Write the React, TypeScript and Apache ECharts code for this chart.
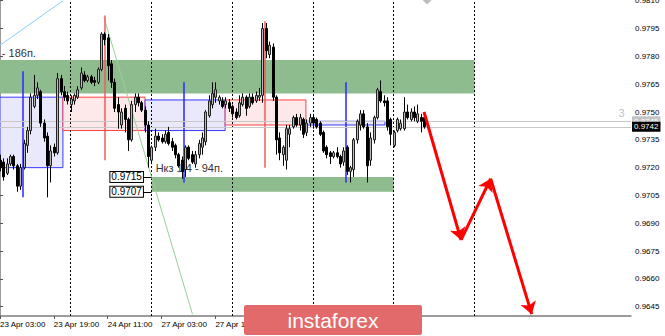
import React, { useEffect, useRef } from 'react';
import * as echarts from 'echarts';

// ---- H1 candles (bar index 0 = 23 Apr 03:00) ----
const open = [
  0.9724, 0.9723, 0.9717, 0.9722, 0.9726, 0.9721, 0.9710, 0.9720, 0.9732, 0.9740,
  0.9753, 0.9759, 0.9761, 0.9744, 0.9737, 0.9721, 0.9731, 0.9728, 0.9768, 0.9761,
  0.9759, 0.9754, 0.9756, 0.9758, 0.9763, 0.9770, 0.9767, 0.9769, 0.9767, 0.9766,
  0.9773, 0.9792, 0.9790, 0.9776, 0.9766, 0.9754, 0.9743, 0.9752, 0.9746, 0.9735,
  0.9754, 0.9758, 0.9755, 0.9751, 0.9743, 0.9724, 0.9731, 0.9737, 0.9736, 0.9734,
  0.9739, 0.9734, 0.9732, 0.9727, 0.9724, 0.9719, 0.9731, 0.9727, 0.9722, 0.9727,
  0.9731, 0.9734, 0.9748, 0.9754, 0.9758, 0.9756, 0.9756, 0.9754, 0.9755, 0.9753,
  0.9750, 0.9748, 0.9754, 0.9758, 0.9753, 0.9758, 0.9756, 0.9758, 0.9759, 0.9795,
  0.9781, 0.9785, 0.9758, 0.9736, 0.9727, 0.9724, 0.9738, 0.9742, 0.9747, 0.9743,
  0.9746, 0.9739, 0.9744, 0.9747, 0.9746, 0.9744, 0.9739, 0.9731, 0.9728, 0.9726,
  0.9728, 0.9726, 0.9723, 0.9731, 0.9718, 0.9719, 0.9735, 0.9743, 0.9749, 0.9742,
  0.9724, 0.9735, 0.9747, 0.9761, 0.9756, 0.9756, 0.9746, 0.9732, 0.9740, 0.9741,
  0.9741, 0.9750, 0.9746, 0.9750, 0.9745, 0.9747, 0.9747,
];
const close = [
  0.9720, 0.9715, 0.9722, 0.9726, 0.9721, 0.9710, 0.9720, 0.9733, 0.9740, 0.9758,
  0.9759, 0.9763, 0.9744, 0.9736, 0.9721, 0.9729, 0.9728, 0.9768, 0.9761, 0.9758,
  0.9756, 0.9757, 0.9759, 0.9762, 0.9771, 0.9767, 0.9769, 0.9766, 0.9766, 0.9773,
  0.9792, 0.9789, 0.9775, 0.9766, 0.9752, 0.9750, 0.9750, 0.9746, 0.9735, 0.9754,
  0.9758, 0.9755, 0.9751, 0.9743, 0.9726, 0.9731, 0.9737, 0.9735, 0.9734, 0.9738,
  0.9733, 0.9731, 0.9727, 0.9721, 0.9718, 0.9731, 0.9725, 0.9723, 0.9727, 0.9733,
  0.9736, 0.9750, 0.9756, 0.9760, 0.9762, 0.9758, 0.9753, 0.9756, 0.9752, 0.9749,
  0.9747, 0.9755, 0.9758, 0.9752, 0.9758, 0.9755, 0.9759, 0.9759, 0.9795, 0.9783,
  0.9786, 0.9758, 0.9735, 0.9728, 0.9731, 0.9741, 0.9741, 0.9747, 0.9743, 0.9747,
  0.9738, 0.9744, 0.9747, 0.9744, 0.9742, 0.9738, 0.9729, 0.9727, 0.9726, 0.9728,
  0.9726, 0.9722, 0.9729, 0.9718, 0.9720, 0.9735, 0.9745, 0.9749, 0.9742, 0.9721,
  0.9736, 0.9747, 0.9762, 0.9756, 0.9755, 0.9742, 0.9738, 0.9739, 0.9746, 0.9744,
  0.9750, 0.9747, 0.9750, 0.9747, 0.9749, 0.9745, 0.9742,
];
const high = [
  0.9727, 0.9725, 0.9725, 0.9727, 0.9727, 0.9722, 0.9722, 0.9735, 0.9742, 0.9760,
  0.9770, 0.9766, 0.9762, 0.9746, 0.9739, 0.9732, 0.9733, 0.9771, 0.9770, 0.9764,
  0.9761, 0.9759, 0.9760, 0.9764, 0.9774, 0.9772, 0.9770, 0.9770, 0.9769, 0.9774,
  0.9793, 0.9793, 0.9792, 0.9778, 0.9768, 0.9758, 0.9752, 0.9754, 0.9747, 0.9756,
  0.9760, 0.9760, 0.9756, 0.9753, 0.9745, 0.9732, 0.9741, 0.9739, 0.9738, 0.9740,
  0.9742, 0.9736, 0.9733, 0.9728, 0.9726, 0.9732, 0.9732, 0.9729, 0.9729, 0.9735,
  0.9739, 0.9751, 0.9759, 0.9766, 0.9766, 0.9759, 0.9758, 0.9758, 0.9757, 0.9754,
  0.9752, 0.9759, 0.9760, 0.9759, 0.9760, 0.9760, 0.9761, 0.9763, 0.9798, 0.9798,
  0.9788, 0.9787, 0.9759, 0.9739, 0.9732, 0.9743, 0.9743, 0.9748, 0.9749, 0.9749,
  0.9747, 0.9746, 0.9749, 0.9749, 0.9747, 0.9745, 0.9740, 0.9732, 0.9729, 0.9729,
  0.9731, 0.9727, 0.9731, 0.9732, 0.9721, 0.9736, 0.9746, 0.9751, 0.9751, 0.9744,
  0.9739, 0.9748, 0.9763, 0.9767, 0.9759, 0.9758, 0.9747, 0.9740, 0.9747, 0.9746,
  0.9758, 0.9754, 0.9752, 0.9753, 0.9754, 0.9749, 0.9748,
];
const low = [
  0.9718, 0.9713, 0.9716, 0.9721, 0.9719, 0.9707, 0.9708, 0.9719, 0.9728, 0.9738,
  0.9752, 0.9757, 0.9742, 0.9734, 0.9704, 0.9712, 0.9726, 0.9727, 0.9759, 0.9756,
  0.9754, 0.9750, 0.9754, 0.9757, 0.9762, 0.9766, 0.9766, 0.9765, 0.9764, 0.9765,
  0.9772, 0.9786, 0.9767, 0.9763, 0.9750, 0.9741, 0.9741, 0.9739, 0.9729, 0.9734,
  0.9750, 0.9753, 0.9750, 0.9739, 0.9720, 0.9722, 0.9729, 0.9734, 0.9733, 0.9733,
  0.9732, 0.9729, 0.9725, 0.9720, 0.9714, 0.9715, 0.9724, 0.9722, 0.9720, 0.9725,
  0.9727, 0.9732, 0.9747, 0.9752, 0.9755, 0.9754, 0.9752, 0.9752, 0.9750, 0.9747,
  0.9746, 0.9747, 0.9753, 0.9748, 0.9752, 0.9754, 0.9755, 0.9756, 0.9755, 0.9779,
  0.9779, 0.9756, 0.9727, 0.9724, 0.9721, 0.9719, 0.9731, 0.9741, 0.9742, 0.9740,
  0.9736, 0.9737, 0.9742, 0.9741, 0.9741, 0.9737, 0.9728, 0.9725, 0.9722, 0.9725,
  0.9725, 0.9720, 0.9721, 0.9716, 0.9712, 0.9715, 0.9733, 0.9740, 0.9741, 0.9712,
  0.9721, 0.9733, 0.9746, 0.9755, 0.9753, 0.9740, 0.9732, 0.9731, 0.9739, 0.9740,
  0.9740, 0.9746, 0.9745, 0.9745, 0.9744, 0.9739, 0.9741,
];

// ---- axes ----
const timeTickIndex = [0, 16, 32, 48, 64];
const timeTickLabels = ['23 Apr 03:00', '23 Apr 19:00', '24 Apr 11:00', '27 Apr 03:00', '27 Apr 19:00'];
const priceTicks = [0.9645, 0.966, 0.9675, 0.969, 0.9705, 0.972, 0.9735, 0.975, 0.9765, 0.978, 0.9795, 0.981];
const X_MIN = 0;
const X_MAX = 187.5;
const Y_MIN = 0.964;
const Y_MAX = 0.98104;
const daySeparators = [21, 45, 69, 93, 117, 141];

// ---- zones / boxes / lines ----
const zoneX = [[0, 141], [45, 117]];
const zoneY = [[0.976, 0.9778], [0.9707, 0.9715]];
const zoneLabelValues = [0.9715, 0.9707];
const zoneLabelX = 45;

const boxX = [[0, 18.7], [18.7, 43.1], [43.1, 66.9], [66.9, 90.9], [90.9, 114.4]];
const boxY = [[0.972, 0.9758], [0.974, 0.9758], [0.974, 0.97565], [0.9743, 0.97565], [0.9743, 0.9745]];
const boxSide = ['buy', 'sell', 'buy', 'sell', 'buy'];

const pivotX = [6.85, 31, 54.7, 78.8, 102.8];
const pivotY = [[0.9704, 0.9772], [0.9724, 0.9802], [0.9712, 0.9766], [0.972, 0.9799], [0.9712, 0.9766]];
const pivotSide = ['buy', 'sell', 'buy', 'sell', 'buy'];

const diagX = [[0, 18.7], [30.9, 57.2]];
const diagY = [[0.9786, 0.981], [0.9801, 0.9641]];
const diagColor = ['#87cefa', '#98d098'];

const priceLineValues = [0.9745, 0.9742];
const priceLineBg = ['#c4c4c4', '#000000'];

const noteTexts = ['- 186п.', 'Нкз 1/4 - 94п.'];
const noteX = [0.4, 46.1];
const noteY = [0.97818, 0.972];

const forecastX = [126, 137, 145.8, 158];
const forecastY = [0.975, 0.9681, 0.9714, 0.9641];

const FONT = 'Liberation Sans';

export default function App() {
  const ref = useRef<HTMLDivElement>(null);

  useEffect(() => {
    if (!ref.current) return;
    const chart = echarts.init(ref.current, undefined, { renderer: 'svg' });

    const candleData = open.map((o, i) => [i, o, close[i], low[i], high[i]]);

    const greenAreas = zoneX.map((xr, k) => [
      { coord: [xr[0], zoneY[k][0]], itemStyle: { color: '#8fbc8f' } },
      { coord: [xr[1], zoneY[k][1]] },
    ]);

    const boxAreas = boxX.map((xr, k) => [
      {
        coord: [xr[0], boxY[k][0]],
        itemStyle: boxSide[k] === 'buy'
          ? { color: '#e9e9fb', borderColor: '#3a3aff', borderWidth: 1 }
          : { color: '#fde9e9', borderColor: '#ff4040', borderWidth: 1 },
      },
      { coord: [xr[1], boxY[k][1]] },
    ]);

    const backLines: any[] = [];
    daySeparators.forEach((d) => {
      backLines.push({ xAxis: d, lineStyle: { color: '#000', width: 1, type: [2, 2] } });
    });
    diagX.forEach((xr, k) => {
      backLines.push([
        { coord: [xr[0], diagY[k][0]], lineStyle: { color: diagColor[k], width: 1, type: 'solid' } },
        { coord: [xr[1], diagY[k][1]] },
      ]);
    });
    pivotX.forEach((px, k) => {
      backLines.push([
        {
          coord: [px, pivotY[k][0]],
          lineStyle: { color: pivotSide[k] === 'buy' ? '#2828ff' : '#f25a5a', width: 1.5, type: 'solid' },
        },
        { coord: [px, pivotY[k][1]] },
      ]);
    });

    const priceLines = priceLineValues.map((v, k) => [
      {
        coord: [X_MIN, v],
        lineStyle: { color: '#c8c8c8', width: 1, type: 'solid' },
        label: {
          show: true, position: 'end', distance: 1, formatter: v.toFixed(4),
          backgroundColor: priceLineBg[k], color: '#fff', fontSize: 8, fontFamily: FONT,
          padding: [1, 2, 1, 2],
        },
      },
      { coord: [X_MAX, v] },
    ]);

    const zoneLabelLines = zoneLabelValues.map((v) => [
      { coord: [zoneLabelX - 2.5, v], lineStyle: { color: '#000', width: 1, type: 'solid' } },
      { coord: [zoneLabelX, v] },
    ]);

    const forecastLines = forecastX.slice(0, -1).map((x, k) => [
      { coord: [x, forecastY[k]], symbol: 'none' },
      { coord: [forecastX[k + 1], forecastY[k + 1]], symbol: 'arrow', symbolSize: 12 },
    ]);

    const notePoints = noteTexts.map((t, k) => ({
      coord: [noteX[k], noteY[k]],
      symbol: 'rect',
      symbolSize: 1,
      itemStyle: { color: 'rgba(0,0,0,0)' },
      label: {
        show: true, position: 'right', distance: 0, formatter: t,
        color: '#333', fontSize: 11, fontFamily: FONT,
      },
    }));

    const zoneLabelPoints = zoneLabelValues.map((v) => ({
      coord: [zoneLabelX, v],
      symbol: 'rect',
      symbolSize: 1,
      itemStyle: { color: 'rgba(0,0,0,0)' },
      label: {
        show: true, position: 'left', distance: 8, formatter: v.toFixed(4),
        color: '#000', fontSize: 10, fontFamily: FONT, lineHeight: 10,
        backgroundColor: '#fff', borderColor: '#000', borderWidth: 1, padding: [0, 1, 0, 1],
      },
    }));

    const misc = [
      {
        coord: [184.7, 0.97495], symbol: 'rect', symbolSize: 1, itemStyle: { color: 'rgba(0,0,0,0)' },
        label: { show: true, position: 'inside', formatter: '3', color: '#c0c0c0', fontSize: 11, fontFamily: FONT },
      },
      {
        coord: [126.9, Y_MAX], symbol: 'diamond', symbolSize: 9, itemStyle: { color: '#bdbdbd' },
        label: { show: false },
      },
    ];

    chart.setOption({
      animation: false,
      backgroundColor: '#fff',
      grid: { left: 0, right: 34, top: 0, bottom: 20, containLabel: false, outerBoundsMode: 'none' },
      xAxis: {
        type: 'value', min: X_MIN, max: X_MAX,
        axisLine: { show: true, onZero: false, lineStyle: { color: '#7a7a7a', width: 1.5 } },
        axisTick: { show: true, customValues: timeTickIndex, length: 3, lineStyle: { color: '#555' } },
        axisLabel: {
          show: true, customValues: timeTickIndex, align: 'left', margin: 4, hideOverlap: false,
          fontSize: 8, color: '#000', fontFamily: FONT,
          formatter: (v: number) => {
            const k = timeTickIndex.indexOf(Math.round(v));
            return k >= 0 ? timeTickLabels[k] : '';
          },
        },
        splitLine: { show: false },
      },
      yAxis: {
        type: 'value', position: 'right', min: Y_MIN, max: Y_MAX, scale: true,
        axisLine: { show: true, lineStyle: { color: '#7a7a7a', width: 1.5 } },
        axisTick: { show: true, customValues: priceTicks, length: 3, lineStyle: { color: '#555' } },
        axisLabel: {
          show: true, customValues: priceTicks, margin: 4, hideOverlap: false,
          fontSize: 8, color: '#000', fontFamily: FONT,
          formatter: (v: number) => v.toFixed(4),
        },
        splitLine: { show: false },
      },
      series: [
        {
          type: 'line', data: [], silent: true, z: 1,
          markArea: { silent: true, z: 1, data: greenAreas },
        },
        {
          type: 'line', data: [], silent: true, z: 1,
          markArea: { silent: true, z: 1.2, data: boxAreas },
        },
        {
          type: 'line', data: [], silent: true, z: 1,
          markLine: {
            silent: true, z: 1.5, precision: 5, symbol: ['none', 'none'], label: { show: false },
            emphasis: { disabled: true }, data: [...backLines, ...priceLines],
          },
          markPoint: { silent: true, z: 1.6, data: notePoints },
        },
        {
          type: 'custom', z: 2, silent: true,
          data: candleData,
          encode: { x: 0, y: [1, 2, 3, 4] },
          renderItem: (_params: any, api: any) => {
            const i = api.value(0);
            const o = api.value(1);
            const c = api.value(2);
            const l = api.value(3);
            const h = api.value(4);
            const pO = api.coord([i, o]);
            const pC = api.coord([i, c]);
            const pL = api.coord([i, l]);
            const pH = api.coord([i, h]);
            const cx = Math.round(pO[0]) + 0.5;
            const yTop = Math.min(pO[1], pC[1]);
            const bodyH = Math.max(Math.abs(pO[1] - pC[1]), 1);
            const bull = c >= o;
            return {
              type: 'group',
              children: [
                { type: 'line', shape: { x1: cx, y1: pH[1], x2: cx, y2: pL[1] }, style: { stroke: '#000', lineWidth: 1 } },
                {
                  type: 'rect', shape: { x: cx - 1, y: yTop, width: 2, height: bodyH },
                  style: { fill: bull ? '#b8b8b8' : '#000', stroke: bull ? '#222' : '#000', lineWidth: 1 },
                },
              ],
            };
          },
        },
        {
          type: 'line', data: [], silent: true, z: 5,
          markLine: {
            silent: true, z: 5, precision: 5, symbol: ['none', 'none'], label: { show: false },
            emphasis: { disabled: true }, data: zoneLabelLines,
          },
          markPoint: { silent: true, z: 5, data: [...zoneLabelPoints, ...misc] },
        },
        {
          type: 'line', data: [], silent: true, z: 6, clip: false,
          markLine: {
            silent: true, z: 6, precision: 5, symbol: ['none', 'arrow'], symbolSize: 12,
            label: { show: false }, emphasis: { disabled: true },
            lineStyle: { color: '#ff0000', width: 3, type: 'solid' },
            itemStyle: { color: '#ff0000' },
            data: forecastLines,
          },
        },
      ],
      graphic: [
        {
          type: 'rect', z: 100, zlevel: 0,
          shape: { x: 244, y: 305, width: 178, height: 30, r: 2 },
          style: { fill: '#e36a6a' },
        },
        {
          type: 'text', z: 101, x: 333, y: 320,
          style: { text: 'instaforex', fill: '#fff', font: '21px "Liberation Sans"', align: 'center', verticalAlign: 'middle' },
        },
      ],
    });

    return () => chart.dispose();
  }, []);

  return (
    <div
      ref={ref}
      style={{ position: 'fixed', left: 0, top: 0, width: 665, height: 336, background: '#fff' }}
    />
  );
}
